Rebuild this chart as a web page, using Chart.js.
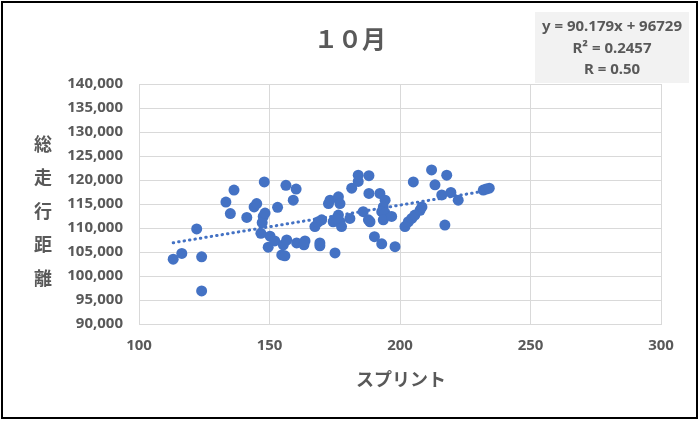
<!DOCTYPE html>
<html><head><meta charset="utf-8">
<script src="https://cdn.jsdelivr.net/npm/chart.js@4/dist/chart.umd.min.js"></script>
<style>html,body{margin:0;padding:0;background:#fff}#wrap{width:700px;height:422px;position:relative}</style>
</head><body><div id="wrap"><canvas id="c" width="700" height="422"></canvas></div>
<script>
const sprintValues = [113.1,116.4,122.1,124.0,124.0,133.3,136.4,135.0,141.3,144.1,145.1,148.0,147.6,147.2,146.7,148.3,150.2,149.5,152.0,153.1,156.3,160.2,159.1,154.7,155.9,155.3,156.6,160.4,163.2,163.6,167.4,168.7,170.0,169.3,169.3,175.1,172.6,173.2,176.4,177.0,174.4,176.4,177.0,177.6,175.7,180.8,181.5,184.0,184.0,188.1,188.1,185.9,187.9,188.5,190.2,192.3,194.3,193.6,193.0,194.3,193.6,196.8,193.0,198.1,201.9,203.2,204.5,205.7,207.7,208.4,205.1,212.1,213.4,217.9,216.0,219.5,217.2,222.3,231.9,233.0,234.2];
const distanceValues = [103500,104700,109800,104000,96900,115400,117900,113000,112200,114400,115100,119600,112400,111100,108900,113100,108300,106000,107300,114300,118900,118100,115800,104400,104200,106500,107500,106900,106500,107300,110300,111300,111700,106900,106300,104800,115100,115800,116500,115100,111300,112700,111300,110300,112000,112000,118300,121000,119700,120900,117200,113400,111700,111300,108200,117200,115800,114400,113400,113100,111700,112400,106700,106100,110300,111300,112000,112700,113700,114400,119600,122100,119000,121000,116900,117400,110600,115800,117900,118100,118300];
const xTicks = [100,150,200,250,300];
const yTicks = [90000,95000,100000,105000,110000,115000,120000,125000,130000,135000,140000];
const trendSlope = 90.179;
const trendIntercept = 96729;
const chartTitle = '１０月';
const xTitle = 'スプリント';
const yTitleChars = ['総','走','行','距','離'];
const statLines = ['y = 90.179x + 96729','R² = 0.2457','R = 0.50'];

const points = sprintValues.map((x,i)=>({x:x,y:distanceValues[i]}));
const xMin = Math.min(...sprintValues), xMax = Math.max(...sprintValues);
const trend = [{x:xMin,y:trendIntercept+trendSlope*xMin},{x:xMax,y:trendIntercept+trendSlope*xMax}];

const TXT = '#595959';
const NUMFONT = '"Noto Sans", "Open Sans", sans-serif';
const JPFONT = '"Noto Sans CJK JP", sans-serif';

const deco = {
  id:'deco',
  beforeDraw(chart){
    const ctx = chart.ctx;
    ctx.save();
    ctx.fillStyle='#fff'; ctx.fillRect(0,0,700,422);
    ctx.restore();
  },
  afterDraw(chart){
    const ctx = chart.ctx;
    ctx.save();
    ctx.strokeStyle='#000'; ctx.lineWidth=2;
    ctx.strokeRect(2,2,695,416);
    ctx.fillStyle=TXT; ctx.textAlign='center'; ctx.textBaseline='middle';
    ctx.font='bold 24px '+JPFONT;
    ctx.fillText(chartTitle,350,39);
    ctx.fillStyle='#f2f2f2'; ctx.fillRect(535,12,154,71);
    ctx.fillStyle=TXT; ctx.font='bold 15px '+NUMFONT;
    statLines.forEach((t,i)=>ctx.fillText(t,612,27+i*21.5));
    ctx.font='bold 18px '+JPFONT;
    yTitleChars.forEach((c,i)=>ctx.fillText(c,43,144+i*33.5));
    ctx.font='bold 18px '+JPFONT;
    ctx.fillText(xTitle,401,379);
    ctx.restore();
  }
};

new Chart(document.getElementById('c'),{
  type:'scatter',
  data:{datasets:[
    {type:'line',data:trend,borderColor:'#4472C4',borderWidth:3,borderDash:[0.5,5],borderCapStyle:'round',pointRadius:0,fill:false,order:2},
    {data:points,backgroundColor:'#4472C4',borderColor:'#4472C4',pointRadius:5.5,pointBorderWidth:0,order:1}
  ]},
  options:{
    responsive:false,animation:false,devicePixelRatio:1,
    layout:{padding:{top:84,right:39,bottom:0,left:0}},
    plugins:{legend:{display:false},tooltip:{enabled:false}},
    scales:{
      x:{type:'linear',min:100,max:300,
        afterBuildTicks:s=>{s.ticks=xTicks.map(v=>({value:v}));},
        afterFit:s=>{s.height=98;},
        grid:{color:'#d9d9d9',lineWidth:1,drawTicks:false},
        border:{display:true,color:'#d9d9d9'},
        ticks:{padding:13,color:TXT,font:{family:NUMFONT,size:15,weight:'bold'},callback:v=>String(v)}},
      y:{type:'linear',min:90000,max:140000,
        afterBuildTicks:s=>{s.ticks=yTicks.map(v=>({value:v}));},
        afterFit:s=>{s.width=139;},
        grid:{color:'#d9d9d9',lineWidth:1,drawTicks:false},
        border:{display:true,color:'#d9d9d9'},
        ticks:{padding:16,color:TXT,font:{family:NUMFONT,size:15,weight:'bold'},callback:v=>v.toLocaleString('en-US')}}
    }
  },
  plugins:[deco]
});
</script></body></html>
